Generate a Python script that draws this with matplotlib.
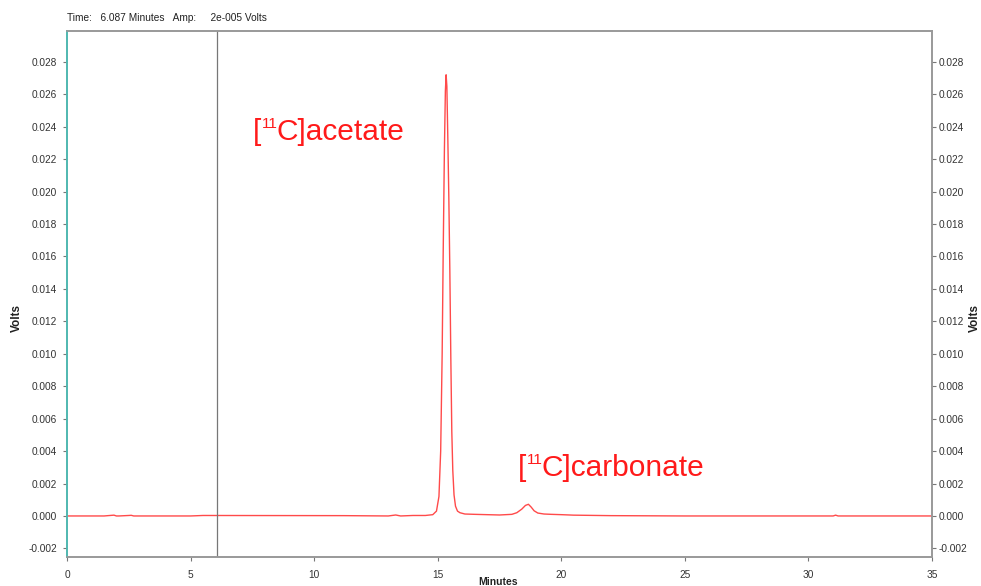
import matplotlib
matplotlib.use("Agg")
import matplotlib.pyplot as plt
from matplotlib.transforms import offset_copy

plt.rcParams['font.family'] = ['Liberation Sans', 'DejaVu Sans']

# chromatogram trace (minutes, volts)
times = [0.0, 1.5, 1.9, 2.0, 2.1, 2.5, 2.6, 2.7, 5.0, 5.5, 11.2, 13.0, 13.3, 13.4,
         13.5, 14.0, 14.5, 14.8, 14.95, 15.05, 15.12, 15.18, 15.22, 15.27, 15.31,
         15.34, 15.37, 15.41, 15.45, 15.49, 15.53, 15.57, 15.61, 15.66, 15.72, 15.8,
         15.9, 16.1, 16.5, 17.0, 17.5, 18.0, 18.2, 18.4, 18.55, 18.67, 18.78, 18.9,
         19.05, 19.3, 19.6, 20.0, 20.5, 21.0, 22.0, 25.0, 28.0, 31.0, 31.1, 31.2,
         33.0, 35.0]
volts = [0.0, 0.0, 0.00005, 0.0, 0.0, 0.00003, 0.00004, 0.0, 0.0, 0.00003, 0.00002,
         0.0, 0.00006, 0.00003, 0.0, 0.00003, 0.00003, 0.00008, 0.0003, 0.0012,
         0.0040, 0.0100, 0.0160, 0.0225, 0.0262, 0.0272, 0.0265, 0.0232, 0.0196,
         0.0152, 0.0098, 0.0052, 0.0028, 0.0013, 0.0006, 0.0003, 0.0002, 0.00012,
         0.0001, 0.00008, 0.00006, 0.0001, 0.0002, 0.00042, 0.00065, 0.00072,
         0.00055, 0.00032, 0.00018, 0.00012, 0.0001, 0.00008, 0.00005, 0.00004,
         0.00002, 0.0, 0.0, 0.0, 0.00005, 0.0, 0.0, 0.0]

cursor_time = 6.087
xticks = [0, 5, 10, 15, 20, 25, 30, 35]
yticks = [-0.002, 0.000, 0.002, 0.004, 0.006, 0.008, 0.010, 0.012, 0.014,
          0.016, 0.018, 0.020, 0.022, 0.024, 0.026, 0.028]
# each label: (before superscript, superscript, after superscript)
peak_labels = [("[", "11", "C]acetate"), ("[", "11", "C]carbonate")]
peak_label_pos = [(7.52, 0.02315), (18.25, 0.00245)]

fig = plt.figure(figsize=(9.81, 5.86), dpi=100)
ax = fig.add_axes([67/981, 1-557/586, (932-67)/981, (557-31)/586])

ax.plot(times, volts, color='#ff4a4a', lw=1.0)
ax.axvline(cursor_time, color='#777777', lw=0.9)

ylim = (-0.00253, 0.0299)
ax.set_xlim(0, 35)
ax.set_ylim(*ylim)
ax.set_xticks(xticks)
ax.set_xticklabels([str(t) for t in xticks])
ax.set_yticks(yticks)
ax.set_yticklabels([f"{v:.3f}" for v in yticks])
ax.tick_params(axis='both', labelsize=7.3, labelcolor='#333333', color='#777777',
               length=3, width=0.8, direction='out')
ax.tick_params(axis='y', pad=4)
ax.tick_params(axis='x', pad=6)

axr = ax.twinx()
axr.set_ylim(*ylim)
axr.set_yticks(yticks)
axr.set_yticklabels([f"{v:.3f}" for v in yticks])
axr.tick_params(axis='y', labelsize=7.3, labelcolor='#333333', color='#777777',
                length=3, width=0.8, direction='out', pad=2)

for a in (ax, axr):
    for side in ['top', 'right', 'bottom']:
        a.spines[side].set_color('#999999')
        a.spines[side].set_linewidth(1.2)
    a.spines['left'].set_color('#4fb8b0')
    a.spines['left'].set_linewidth(1.2)

fig.text(17/981, 1-318/586, "Volts", fontsize=8.5, fontweight='bold',
         color='#222222', ha='center', va='center', rotation=90)
fig.text(975/981, 1-318/586, "Volts", fontsize=8.5, fontweight='bold',
         color='#222222', ha='center', va='center', rotation=90)

fig.text(498/981, 1-582/586, "Minutes", fontsize=7.5, fontweight='bold',
         color='#222222', ha='center', va='center')

fig.text(67/981, 1-18/586, "Time:   6.087 Minutes   Amp:     2e-005 Volts",
         fontsize=7.3, color='#222222', ha='left', va='center')

fig.canvas.draw()
renderer = fig.canvas.get_renderer()
main_size = 21.5
sup_size = 11
for (pre, sup, post), (x, y) in zip(peak_labels, peak_label_pos):
    t1 = ax.text(x, y, pre, color='#ff1a1a', fontsize=main_size, ha='left',
                 va='baseline')
    w1 = t1.get_window_extent(renderer).width * 72 / fig.dpi
    tr2 = offset_copy(ax.transData, fig=fig, x=w1 + 0.3, y=main_size * 0.42,
                      units='points')
    t2 = ax.text(x, y, sup, color='#ff1a1a', fontsize=sup_size, ha='left',
                 va='baseline', transform=tr2)
    w2 = t2.get_window_extent(renderer).width * 72 / fig.dpi
    tr3 = offset_copy(ax.transData, fig=fig, x=w1 + w2 - 0.5, y=0,
                      units='points')
    ax.text(x, y, post, color='#ff1a1a', fontsize=main_size, ha='left',
            va='baseline', transform=tr3)

fig.savefig("out.png", dpi=100)
